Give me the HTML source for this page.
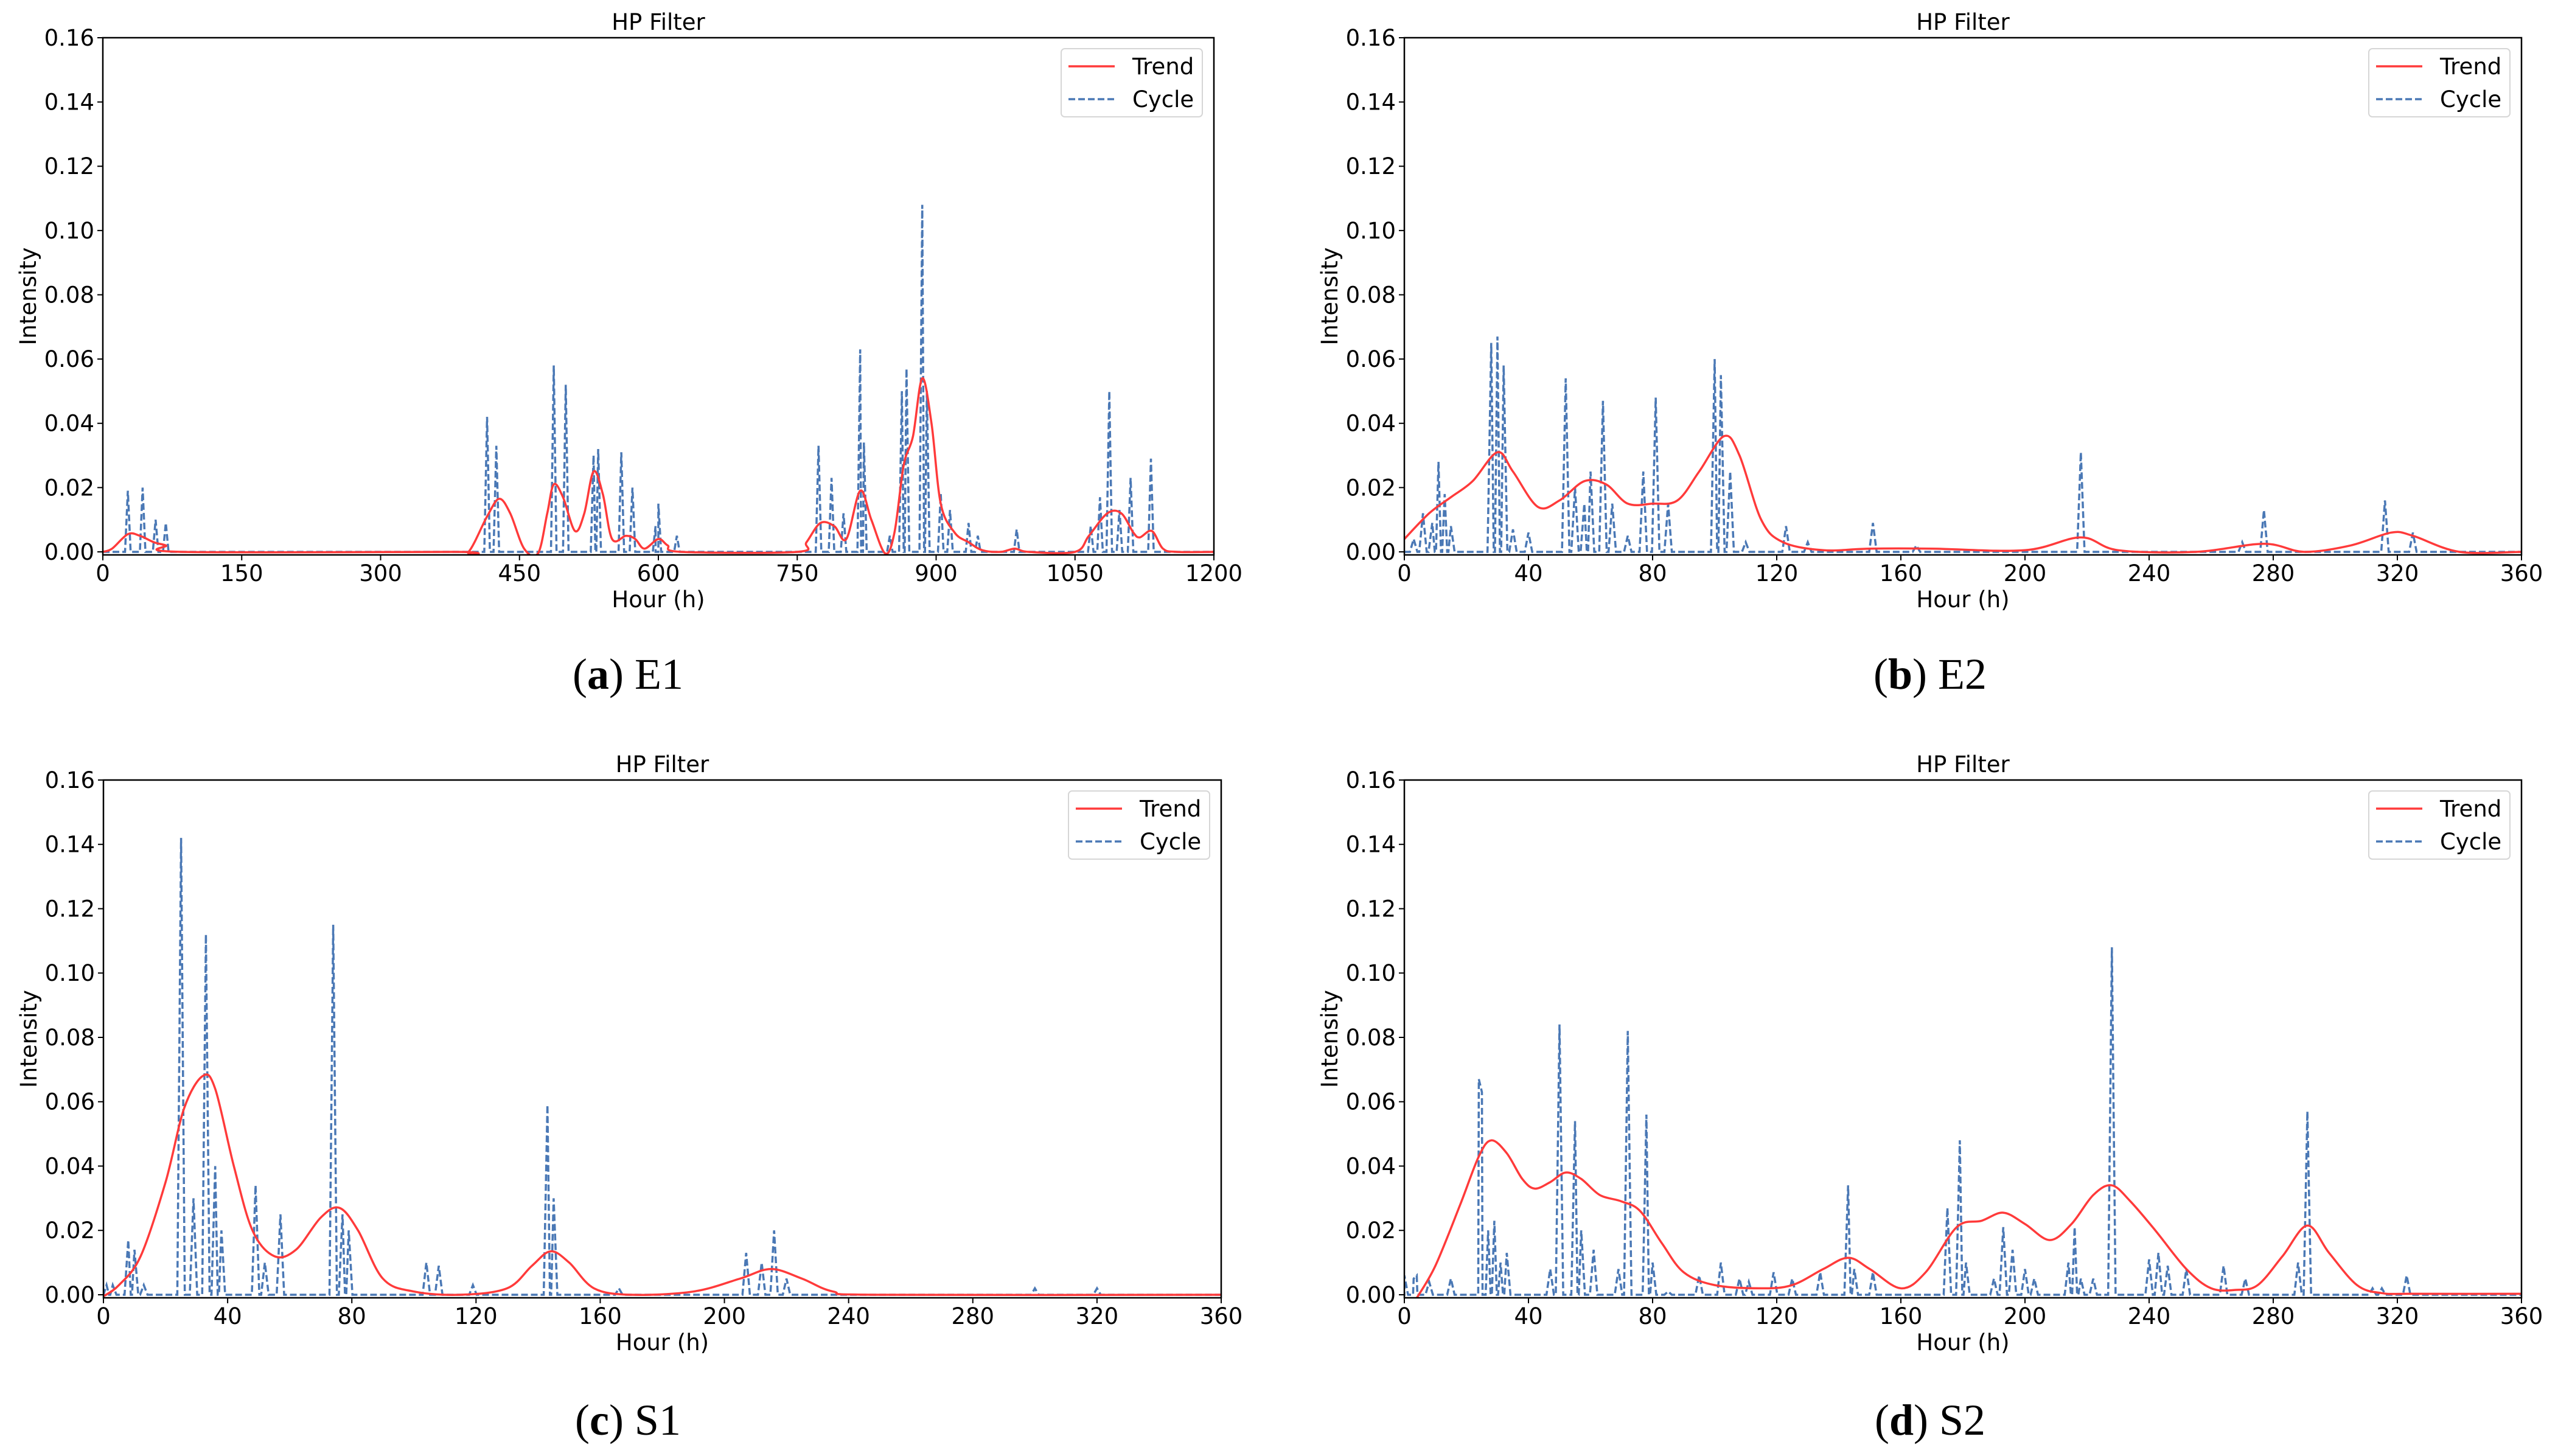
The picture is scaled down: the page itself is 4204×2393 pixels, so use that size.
<!DOCTYPE html>
<html><head><meta charset="utf-8">
<style>
html,body{margin:0;padding:0;background:#fff;}
svg{display:block;}
text{font-family:"DejaVu Sans","Liberation Sans",sans-serif;fill:#000;}
.cap{font-family:"Liberation Serif",serif;font-size:72px;}
</style></head>
<body>
<svg id="fig" width="4204" height="2393" viewBox="0 0 4204 2393" xmlns="http://www.w3.org/2000/svg">
<text class="cap" x="1032" y="1132" text-anchor="middle">(<tspan font-weight="bold">a</tspan>) E1</text>
<text class="cap" x="3172" y="1132" text-anchor="middle">(<tspan font-weight="bold">b</tspan>) E2</text>
<text class="cap" x="1032" y="2358" text-anchor="middle">(<tspan font-weight="bold">c</tspan>) S1</text>
<text class="cap" x="3172" y="2358" text-anchor="middle">(<tspan font-weight="bold">d</tspan>) S2</text>
</svg>
<script>
// ---- data ----
const yTicks = [0,0.02,0.04,0.06,0.08,0.10,0.12,0.14,0.16];
const xTicksE1 = [0,150,300,450,600,750,900,1050,1200];
const xTicks360 = [0,40,80,120,160,200,240,280,320,360];

const e1CycleX = [27,43,57,68,415,425,487,500,530,535,560,572,597,600,620,773,787,800,818,822,850,863,868,885,890,905,915,935,945,987,1067,1077,1087,1098,1110,1132];
const e1CycleY = [0.019,0.020,0.010,0.009,0.042,0.033,0.058,0.052,0.030,0.032,0.031,0.020,0.008,0.015,0.005,0.033,0.023,0.012,0.063,0.034,0.005,0.050,0.057,0.108,0.050,0.018,0.013,0.009,0.005,0.007,0.008,0.017,0.050,0.013,0.023,0.029];
const e1TrendX = [0,10,27,40,55,68,85,380,395,415,428,440,455,470,480,487,497,510,520,530,540,550,565,575,585,600,610,625,750,760,775,790,803,818,830,845,855,865,875,885,895,905,920,935,950,970,985,1000,1050,1065,1085,1100,1113,1120,1133,1145,1160,1200];
const e1TrendY = [0,0.001,0.0055,0.005,0.003,0.002,0,0,0,0.011,0.0165,0.012,0.001,-0.0005,0.012,0.021,0.017,0.0065,0.012,0.025,0.018,0.004,0.005,0.004,0.001,0.004,0.002,0,0,0.003,0.009,0.008,0.004,0.019,0.010,-0.0005,0.006,0.027,0.036,0.054,0.040,0.015,0.006,0.003,0.0005,0,0.001,0,0,0.005,0.012,0.012,0.006,0.0045,0.0065,0.001,0,0];

const e2CycleX = [3,6,9,11,13,15,28,30,32,35,40,52,55,58,60,64,67,72,77,81,85,100,102,105,110,123,130,151,165,218,270,277,316,325];
const e2CycleY = [0.004,0.012,0.009,0.028,0.018,0.008,0.065,0.067,0.058,0.007,0.006,0.054,0.020,0.015,0.025,0.047,0.015,0.005,0.025,0.048,0.015,0.060,0.055,0.025,0.003,0.008,0.003,0.009,0.002,0.031,0.003,0.013,0.016,0.006];
const e2TrendX = [0,8,15,22,30,35,43,50,58,65,72,80,88,95,103,108,115,122,135,150,170,200,218,230,255,277,290,305,318,325,340,360];
const e2TrendY = [0.004,0.012,0.017,0.022,0.031,0.025,0.014,0.016,0.022,0.021,0.015,0.015,0.016,0.025,0.036,0.030,0.010,0.003,0.0005,0.001,0.001,0.0005,0.0045,0.0005,0,0.0025,0,0.002,0.006,0.005,0,0];

const s1CycleX = [1,3,8,10,13,25,29,33,36,38,49,52,57,74,77,79,104,108,119,143,145,166,207,212,216,220,300,320];
const s1CycleY = [0.003,0.003,0.017,0.014,0.003,0.142,0.030,0.112,0.040,0.020,0.034,0.010,0.025,0.115,0.025,0.020,0.010,0.009,0.003,0.059,0.030,0.002,0.013,0.010,0.020,0.005,0.002,0.002];
const s1TrendX = [0,5,12,20,26,32,36,42,48,55,62,70,76,82,90,100,115,130,138,144,150,158,170,190,205,215,225,235,250,360];
const s1TrendY = [-0.0005,0.003,0.012,0.035,0.058,0.068,0.064,0.040,0.020,0.012,0.014,0.024,0.027,0.020,0.005,0.001,0,0.002,0.009,0.0135,0.010,0.002,0,0.001,0.005,0.008,0.005,0.001,0,0];

const s2CycleX = [0,3,4,8,15,24,25,27,29,31,33,47,50,55,57,61,69,72,78,80,85,95,102,108,111,119,125,134,143,145,151,175,179,181,190,193,196,200,203,214,216,218,222,228,240,243,246,252,264,271,288,291,312,315,323];
const s2CycleY = [0.006,0.005,0.006,0.004,0.005,0.067,0.063,0.020,0.023,0.010,0.013,0.008,0.084,0.054,0.020,0.014,0.008,0.082,0.056,0.010,0.001,0.006,0.010,0.005,0.004,0.007,0.005,0.007,0.034,0.008,0.007,0.027,0.048,0.010,0.005,0.021,0.014,0.008,0.005,0.010,0.021,0.005,0.005,0.108,0.011,0.013,0.009,0.008,0.009,0.005,0.010,0.057,0.002,0.002,0.006];
const s2TrendX = [4,10,18,24,28,33,38,42,47,52,57,63,70,76,83,90,100,115,125,135,143,150,160,168,178,186,193,200,208,215,222,228,234,242,252,260,268,275,283,291,298,307,315,325,360];
const s2TrendY = [-0.001,0.009,0.028,0.043,0.048,0.044,0.036,0.033,0.035,0.038,0.036,0.031,0.029,0.026,0.016,0.007,0.003,0.002,0.003,0.008,0.0115,0.008,0.002,0.007,0.021,0.023,0.0255,0.022,0.017,0.022,0.031,0.034,0.029,0.020,0.008,0.002,0.0015,0.003,0.012,0.0215,0.013,0.003,0.0005,0.0003,0.0003];

// ---- drawing ----
const NS = "http://www.w3.org/2000/svg";
const svg = document.getElementById('fig');
function mk(tag, attrs, parent){
  const e = document.createElementNS(NS, tag);
  for (const k in attrs) e.setAttribute(k, attrs[k]);
  (parent||svg).appendChild(e);
  return e;
}
function smoothPath(pts){
  let d = 'M' + pts[0][0].toFixed(1) + ',' + pts[0][1].toFixed(1);
  for (let i=0;i<pts.length-1;i++){
    const p0 = pts[Math.max(0,i-1)], p1 = pts[i], p2 = pts[i+1], p3 = pts[Math.min(pts.length-1,i+2)];
    const c1x = p1[0] + (p2[0]-p0[0])/6, c1y = p1[1] + (p2[1]-p0[1])/6;
    const c2x = p2[0] - (p3[0]-p1[0])/6, c2y = p2[1] - (p3[1]-p1[1])/6;
    d += ' C' + c1x.toFixed(1)+','+c1y.toFixed(1)+' '+c2x.toFixed(1)+','+c2y.toFixed(1)+' '+p2[0].toFixed(1)+','+p2[1].toFixed(1);
  }
  return d;
}
function panel(id, L, R, T, B, xmax, xTicks, trendX, trendY, cycX, cycY, spikeW){
  const ymin = -0.00095, ymax = 0.16;
  const sx = v => L + (v/xmax)*(R-L);
  const sy = v => B - (v-ymin)/(ymax-ymin)*(B-T);
  const g = mk('g', {});
  
  
  const clipId = 'clip-' + id;
  const cp = mk('clipPath', {id: clipId}, g);
  mk('rect', {x:L, y:T, width:R-L, height:B-T}, cp);
  // cycle
  const cpts = [[0,0]];
  for (let i=0;i<cycX.length;i++){
    cpts.push([cycX[i]-spikeW,0]);
    cpts.push([cycX[i],cycY[i]]);
    cpts.push([cycX[i]+spikeW,0]);
  }
  cpts.push([xmax,0]);
  cpts.sort((a,b)=>a[0]-b[0]);
  const cyc = mk('polyline', {points: cpts.map(p=>sx(p[0]).toFixed(1)+','+sy(p[1]).toFixed(1)).join(' '), fill:'none', stroke:'#4a78b5', 'stroke-width':3.5, 'stroke-dasharray':'11,5', 'clip-path':'url(#'+clipId+')'}, g);
  
  
  // trend
  const tpts = trendX.map((x,i)=>[sx(x), sy(trendY[i])]);
  const tr = mk('path', {d: smoothPath(tpts), fill:'none', stroke:'#ff3a3a', 'stroke-width':3.5, 'clip-path':'url(#'+clipId+')'}, g);
  
  
  // frame
  const fr = mk('rect', {x:L, y:T, width:R-L, height:B-T, fill:'none', stroke:'#000', 'stroke-width':2.5}, g);
  
  
  // y ticks
  yTicks.forEach(v=>{
    const y = sy(v);
    mk('line', {x1:L-9, x2:L, y1:y, y2:y, stroke:'#000', 'stroke-width':2}, g);
    const t = mk('text', {x:L-14, y:y+13, 'font-size':37, 'text-anchor':'end'}, g);
    t.textContent = v.toFixed(2);
    
    
  });
  xTicks.forEach(v=>{
    const x = sx(v);
    mk('line', {x1:x, x2:x, y1:B, y2:B+9, stroke:'#000', 'stroke-width':2}, g);
    const t = mk('text', {x:x, y:B+43, 'font-size':37, 'text-anchor':'middle'}, g);
    t.textContent = String(v);
    
    
  });
  const xl = mk('text', {x:(L+R)/2, y:B+86, 'font-size':37, 'text-anchor':'middle'}, g);
  xl.textContent = 'Hour (h)';
  
  
  const yl = mk('text', {x:0, y:0, 'font-size':37, 'text-anchor':'middle', transform:'translate('+(L-110)+','+((T+B)/2)+') rotate(-90)'}, g);
  yl.textContent = 'Intensity';
  
  
  const ti = mk('text', {x:(L+R)/2, y:T-13, 'font-size':37, 'text-anchor':'middle'}, g);
  ti.textContent = 'HP Filter';
  
  
  // legend
  const lw = 232, lh = 112, lx = R-19-lw, ly = T+18;
  const lg = mk('g', {}, g);
  
  
  mk('rect', {x:lx, y:ly, width:lw, height:lh, rx:6, fill:'#fff', 'fill-opacity':0.8, stroke:'#d6d6d6', 'stroke-width':2}, lg);
  mk('line', {x1:lx+12, x2:lx+88, y1:ly+29, y2:ly+29, stroke:'#ff3a3a', 'stroke-width':3.5}, lg);
  mk('line', {x1:lx+12, x2:lx+88, y1:ly+83, y2:ly+83, stroke:'#4a78b5', 'stroke-width':3.5, 'stroke-dasharray':'11,5'}, lg);
  const t1 = mk('text', {x:lx+117, y:ly+42, 'font-size':37}, lg);
  t1.textContent = 'Trend';
  
  
  const t2 = mk('text', {x:lx+117, y:ly+96, 'font-size':37}, lg);
  t2.textContent = 'Cycle';
  
  
}
panel('e1', 169, 1995, 62, 912, 1200, xTicksE1, e1TrendX, e1TrendY, e1CycleX, e1CycleY, 3);
panel('e2', 2308, 4144, 62, 912, 360, xTicks360, e2TrendX, e2TrendY, e2CycleX, e2CycleY, 1.2);
panel('s1', 170, 2007, 1282, 2133, 360, xTicks360, s1TrendX, s1TrendY, s1CycleX, s1CycleY, 1.2);
panel('s2', 2308, 4144, 1282, 2133, 360, xTicks360, s2TrendX, s2TrendY, s2CycleX, s2CycleY, 1.2);
</script>
</body></html>
